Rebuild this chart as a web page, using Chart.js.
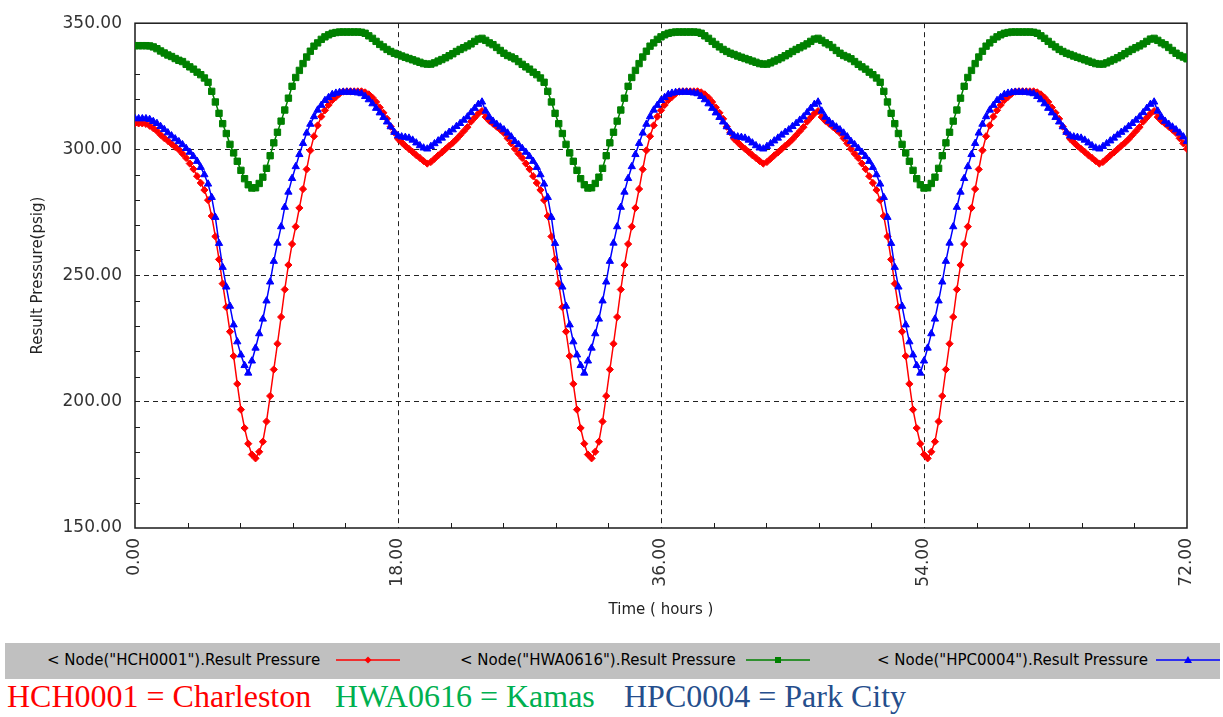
<!DOCTYPE html>
<html>
<head>
<meta charset="utf-8">
<title>Result Pressure</title>
<script src="https://cdn.jsdelivr.net/npm/chart.js@4.4.1/dist/chart.umd.min.js"></script>
<style>
    body { margin: 0; background: #fff; overflow: hidden; }
    #wrap { position: relative; width: 1223px; height: 717px; }
    #pressure-chart { position: absolute; left: 0; top: 0; }
    .legend-bar { position: absolute; left: 5px; top: 643px; width: 1215px; height: 36px; background: #c0c0c0; }
    .legend-text { position: absolute; top: 651px; font: 15px "DejaVu Sans", sans-serif; color: #000; white-space: nowrap; line-height: 18px; }
    .legend-mark { position: absolute; top: 654px; }
    .caption { position: absolute; top: 680px; font: 32px "Liberation Serif", "Times New Roman", serif; line-height: 32px; white-space: nowrap; }
</style>
</head>
<body>
<div id="wrap">
    <canvas id="pressure-chart" width="1223" height="640"></canvas>
    <div class="legend-bar"></div>
    <div id="legend"></div>
    <div class="caption" style="left:7px;color:#ff0000">HCH0001 = Charleston</div>
    <div class="caption" style="left:335px;color:#00b050">HWA0616 = Kamas</div>
    <div class="caption" style="left:624px;color:#254e8c">HPC0004 = Park City</div>
</div>
<script>
// pressures (psig), one sample every 15 min from 0 to 72 hours
const pressureHCH0001 = [
    // day 1
    310.3, 310.3, 310.3, 310.1, 309.4, 308.4, 307.3, 305.8, 304.5, 303.4, 302.2, 301.0, 299.9,
    298.3, 296.6, 294.4, 292.2, 289.4, 286.7, 283.9, 279.9, 273.6, 265.5, 256.4, 246.8, 237.5, 227.8, 218.1, 207.1,
    196.9, 189.6, 183.4, 179.1, 177.6, 180.2, 184.2, 192.2, 202.3, 212.8, 223.0, 233.6, 244.5, 254.2, 262.5, 269.4,
    276.8, 284.3, 292.1, 299.6, 305.2, 309.5, 313.0, 315.5, 317.6, 319.5, 320.8, 322.1, 322.9, 323.0, 323.0, 323.0,
    323.0, 323.0, 322.6, 321.8, 320.5, 318.8, 316.6, 314.5, 312.1, 309.0, 306.7, 304.2, 302.8, 301.4, 300.2, 299.0,
    297.7, 296.6, 295.4, 294.4, 295.0, 296.3, 297.6, 298.8, 300.1, 301.4, 302.6, 304.0, 305.6, 307.2, 308.8,
    // day 2
    311.0, 312.6, 314.2, 315.2, 312.8, 311.3, 310.2, 309.0, 307.8, 306.5, 304.4, 302.4, 300.2,
    298.3, 296.6, 294.4, 292.2, 289.4, 286.7, 283.9, 279.9, 273.6, 265.5, 256.4, 246.8, 237.5, 227.8, 218.1, 207.1,
    196.9, 189.6, 183.4, 179.1, 177.6, 180.2, 184.2, 192.2, 202.3, 212.8, 223.0, 233.6, 244.5, 254.2, 262.5, 269.4,
    276.8, 284.3, 292.1, 299.6, 305.2, 309.5, 313.0, 315.5, 317.6, 319.5, 320.8, 322.1, 322.9, 323.0, 323.0, 323.0,
    323.0, 323.0, 322.6, 321.8, 320.5, 318.8, 316.6, 314.5, 312.1, 309.0, 306.7, 304.2, 302.8, 301.4, 300.2, 299.0,
    297.7, 296.6, 295.4, 294.4, 295.0, 296.3, 297.6, 298.8, 300.1, 301.4, 302.6, 304.0, 305.6, 307.2, 308.8,
    // day 3
    311.0, 312.6, 314.2, 315.2, 312.8, 311.3, 310.2, 309.0, 307.8, 306.5, 304.4, 302.4, 300.2,
    298.3, 296.6, 294.4, 292.2, 289.4, 286.7, 283.9, 279.9, 273.6, 265.5, 256.4, 246.8, 237.5, 227.8, 218.1, 207.1,
    196.9, 189.6, 183.4, 179.1, 177.6, 180.2, 184.2, 192.2, 202.3, 212.8, 223.0, 233.6, 244.5, 254.2, 262.5, 269.4,
    276.8, 284.3, 292.1, 299.6, 305.2, 309.5, 313.0, 315.5, 317.6, 319.5, 320.8, 322.1, 322.9, 323.0, 323.0, 323.0,
    323.0, 323.0, 322.6, 321.8, 320.5, 318.8, 316.6, 314.5, 312.1, 309.0, 306.7, 304.2, 302.8, 301.4, 300.2, 299.0,
    297.7, 296.6, 295.4, 294.4, 295.0, 296.3, 297.6, 298.8, 300.1, 301.4, 302.6, 304.0, 305.6, 307.2, 308.8,
    // last hours
    311.0, 312.6, 314.2, 315.2, 312.8, 311.3, 310.2, 309.0, 307.8, 306.5, 304.4, 302.4, 300.2
];

const pressureHWA0616 = [
    // day 1
    341.1, 341.1, 341.1, 341.1, 341.0, 340.6, 339.9, 339.0, 338.2, 337.4, 336.8, 336.0, 335.3,
    334.8, 333.7, 332.7, 331.8, 330.6, 329.6, 328.3, 326.6, 323.0, 318.8, 314.3, 310.2, 306.3, 302.0, 298.6, 295.3,
    291.7, 288.4, 286.0, 284.7, 284.8, 286.5, 289.0, 292.5, 297.5, 302.6, 306.8, 311.2, 315.6, 320.3, 325.0, 328.5,
    331.3, 334.0, 336.6, 338.9, 340.9, 342.2, 343.6, 344.6, 345.4, 346.0, 346.3, 346.5, 346.5, 346.5, 346.5, 346.5,
    346.5, 346.4, 346.0, 345.0, 344.0, 342.8, 341.6, 340.6, 339.6, 338.8, 338.1, 337.6, 337.0, 336.5, 336.0, 335.5,
    335.0, 334.5, 334.0, 333.8, 333.8, 334.3, 335.0, 335.6, 336.3, 337.1, 337.9, 338.8, 339.6, 340.3, 341.0,
    // day 2
    341.8, 342.8, 343.7, 344.0, 343.2, 342.2, 341.5, 340.4, 339.2, 338.1, 337.2, 336.6, 335.9,
    334.8, 333.7, 332.7, 331.8, 330.6, 329.6, 328.3, 326.6, 323.0, 318.8, 314.3, 310.2, 306.3, 302.0, 298.6, 295.3,
    291.7, 288.4, 286.0, 284.7, 284.8, 286.5, 289.0, 292.5, 297.5, 302.6, 306.8, 311.2, 315.6, 320.3, 325.0, 328.5,
    331.3, 334.0, 336.6, 338.9, 340.9, 342.2, 343.6, 344.6, 345.4, 346.0, 346.3, 346.5, 346.5, 346.5, 346.5, 346.5,
    346.5, 346.4, 346.0, 345.0, 344.0, 342.8, 341.6, 340.6, 339.6, 338.8, 338.1, 337.6, 337.0, 336.5, 336.0, 335.5,
    335.0, 334.5, 334.0, 333.8, 333.8, 334.3, 335.0, 335.6, 336.3, 337.1, 337.9, 338.8, 339.6, 340.3, 341.0,
    // day 3
    341.8, 342.8, 343.7, 344.0, 343.2, 342.2, 341.5, 340.4, 339.2, 338.1, 337.2, 336.6, 335.9,
    334.8, 333.7, 332.7, 331.8, 330.6, 329.6, 328.3, 326.6, 323.0, 318.8, 314.3, 310.2, 306.3, 302.0, 298.6, 295.3,
    291.7, 288.4, 286.0, 284.7, 284.8, 286.5, 289.0, 292.5, 297.5, 302.6, 306.8, 311.2, 315.6, 320.3, 325.0, 328.5,
    331.3, 334.0, 336.6, 338.9, 340.9, 342.2, 343.6, 344.6, 345.4, 346.0, 346.3, 346.5, 346.5, 346.5, 346.5, 346.5,
    346.5, 346.4, 346.0, 345.0, 344.0, 342.8, 341.6, 340.6, 339.6, 338.8, 338.1, 337.6, 337.0, 336.5, 336.0, 335.5,
    335.0, 334.5, 334.0, 333.8, 333.8, 334.3, 335.0, 335.6, 336.3, 337.1, 337.9, 338.8, 339.6, 340.3, 341.0,
    // last hours
    341.8, 342.8, 343.7, 344.0, 343.2, 342.2, 341.5, 340.4, 339.2, 338.1, 337.2, 336.6, 335.9
];

const pressureHPC0004 = [
    // day 1
    312.2, 312.2, 312.2, 312.2, 311.9, 311.1, 310.3, 309.1, 307.9, 306.6, 305.4, 304.2, 303.1,
    301.9, 300.4, 298.9, 297.2, 295.3, 292.9, 290.0, 286.3, 281.0, 273.1, 262.8, 253.3, 245.5, 237.9, 230.5, 223.8,
    218.6, 214.4, 211.4, 216.2, 221.3, 227.0, 232.8, 240.0, 247.5, 255.7, 262.9, 269.4, 277.1, 283.1, 288.5, 293.2,
    298.0, 302.4, 306.5, 310.0, 313.0, 315.6, 317.5, 319.4, 320.6, 321.8, 322.3, 322.6, 322.7, 322.7, 322.7, 322.6,
    322.4, 322.1, 321.0, 319.7, 318.1, 316.3, 314.5, 312.7, 310.9, 309.0, 306.8, 305.4, 305.0, 304.8, 304.5, 303.7,
    302.6, 301.5, 300.6, 300.2, 301.2, 302.3, 303.4, 304.5, 305.7, 306.8, 307.8, 309.1, 310.3, 311.6, 312.9,
    // day 2
    314.6, 316.3, 317.9, 318.8, 315.2, 312.8, 311.2, 310.0, 308.9, 307.8, 306.5, 305.0, 303.2,
    301.9, 300.4, 298.9, 297.2, 295.3, 292.9, 290.0, 286.3, 281.0, 273.1, 262.8, 253.3, 245.5, 237.9, 230.5, 223.8,
    218.6, 214.4, 211.4, 216.2, 221.3, 227.0, 232.8, 240.0, 247.5, 255.7, 262.9, 269.4, 277.1, 283.1, 288.5, 293.2,
    298.0, 302.4, 306.5, 310.0, 313.0, 315.6, 317.5, 319.4, 320.6, 321.8, 322.3, 322.6, 322.7, 322.7, 322.7, 322.6,
    322.4, 322.1, 321.0, 319.7, 318.1, 316.3, 314.5, 312.7, 310.9, 309.0, 306.8, 305.4, 305.0, 304.8, 304.5, 303.7,
    302.6, 301.5, 300.6, 300.2, 301.2, 302.3, 303.4, 304.5, 305.7, 306.8, 307.8, 309.1, 310.3, 311.6, 312.9,
    // day 3
    314.6, 316.3, 317.9, 318.8, 315.2, 312.8, 311.2, 310.0, 308.9, 307.8, 306.5, 305.0, 303.2,
    301.9, 300.4, 298.9, 297.2, 295.3, 292.9, 290.0, 286.3, 281.0, 273.1, 262.8, 253.3, 245.5, 237.9, 230.5, 223.8,
    218.6, 214.4, 211.4, 216.2, 221.3, 227.0, 232.8, 240.0, 247.5, 255.7, 262.9, 269.4, 277.1, 283.1, 288.5, 293.2,
    298.0, 302.4, 306.5, 310.0, 313.0, 315.6, 317.5, 319.4, 320.6, 321.8, 322.3, 322.6, 322.7, 322.7, 322.7, 322.6,
    322.4, 322.1, 321.0, 319.7, 318.1, 316.3, 314.5, 312.7, 310.9, 309.0, 306.8, 305.4, 305.0, 304.8, 304.5, 303.7,
    302.6, 301.5, 300.6, 300.2, 301.2, 302.3, 303.4, 304.5, 305.7, 306.8, 307.8, 309.1, 310.3, 311.6, 312.9,
    // last hours
    314.6, 316.3, 317.9, 318.8, 315.2, 312.8, 311.2, 310.0, 308.9, 307.8, 306.5, 305.0, 303.2
];

// sample clock, 15 min steps
const timeHours = pressureHCH0001.map((_, i) => i * 0.25);

const xMajorTicks = [0, 18, 36, 54, 72];
const xMinorTicks = [3.6, 7.2, 10.8, 14.4, 21.6, 25.2, 28.8, 32.4, 39.6, 43.2, 46.8, 50.4, 57.6, 61.2, 64.8, 68.4];
const yMajorTicks = [150, 200, 250, 300, 350];
const yMinorTicks = [160, 170, 180, 190, 210, 220, 230, 240, 260, 270, 280, 290, 310, 320, 330, 340];

const seriesNames = ['< Node("HCH0001").Result Pressure', '< Node("HWA0616").Result Pressure', '< Node("HPC0004").Result Pressure'];
const seriesColors = ['#ff0000', '#008000', '#0000ff'];

// legend strip placement: text left, sample line left
const legendSlots = [[47, 336], [460, 746], [877, 1156]];

const axisFrame = {
    id: 'axisFrame',
    beforeDatasetsDraw(chart) {
        const { ctx, chartArea: a, scales: { x, y } } = chart;
        ctx.save();
        ctx.strokeStyle = '#1a1a1a';
        ctx.lineWidth = 1.5;
        ctx.strokeRect(a.left, a.top, a.right - a.left, a.bottom - a.top);
        ctx.lineWidth = 1;
        ctx.beginPath();
        yMinorTicks.forEach(v => {
            let py = Math.round(y.getPixelForValue(v)) + 0.5;
            ctx.moveTo(a.left, py);
            ctx.lineTo(a.left + 5, py);
        });
        xMinorTicks.forEach(v => {
            let px = Math.round(x.getPixelForValue(v)) + 0.5;
            ctx.moveTo(px, a.bottom);
            ctx.lineTo(px, a.bottom - 5);
        });
        ctx.stroke();
        ctx.restore();
    }
};

const innerGrid = (edges) => (c) => (c.tick && edges.indexOf(c.tick.value) === -1) ? '#222' : 'rgba(0,0,0,0)';

const tickFont = { family: 'DejaVu Sans', size: 17 };

var pressureChart = new Chart(document.getElementById('pressure-chart'), {
    type: 'line',
    data: {
        labels: timeHours,
        datasets: [
            { label: seriesNames[0], data: pressureHCH0001, borderColor: seriesColors[0], backgroundColor: seriesColors[0], pointStyle: 'rectRot', pointRadius: 3.6, order: 2 },
            { label: seriesNames[1], data: pressureHWA0616, borderColor: seriesColors[1], backgroundColor: seriesColors[1], pointStyle: 'rect', pointRadius: 4.5, order: 1 },
            { label: seriesNames[2], data: pressureHPC0004, borderColor: seriesColors[2], backgroundColor: seriesColors[2], pointStyle: 'triangle', pointRadius: 4.2, order: 0 }
        ].map(ds => Object.assign(ds, { borderWidth: 1.5, pointBorderWidth: 1, pointBorderColor: ds.borderColor, tension: 0 }))
    },
    options: {
        responsive: false,
        animation: false,
        events: [],
        layout: { padding: { top: 13, right: 36, left: 0, bottom: 0 } },
        plugins: { legend: { display: false }, tooltip: { enabled: false } },
        scales: {
            x: {
                type: 'linear',
                min: 0,
                max: 72,
                afterFit(s) { s.height = 112; },
                afterBuildTicks(s) { s.ticks = xMajorTicks.map(v => ({ value: v })); },
                ticks: { autoSkip: false, minRotation: 90, maxRotation: 90, padding: 10, font: tickFont, color: '#333', callback: v => Number(v).toFixed(2) },
                grid: { drawTicks: false, color: innerGrid([0, 72]), lineWidth: 1 },
                border: { display: false, dash: [5, 4] },
                title: { display: true, text: 'Time ( hours )', color: '#222', font: { family: 'DejaVu Sans', size: 15 }, padding: { top: 0, bottom: 21 } }
            },
            y: {
                min: 150,
                max: 350,
                afterFit(s) { s.width = 135; },
                afterBuildTicks(s) { s.ticks = yMajorTicks.map(v => ({ value: v })); },
                ticks: { padding: 13, font: tickFont, color: '#333', callback: v => Number(v).toFixed(2) },
                grid: { drawTicks: false, color: innerGrid([150, 350]), lineWidth: 1 },
                border: { display: false, dash: [5, 4] },
                title: { display: true, text: 'Result Pressure(psig)', color: '#222', font: { family: 'DejaVu Sans', size: 15 }, padding: { top: 29, bottom: 0 } }
            }
        }
    },
    plugins: [axisFrame]
});

function markerPath(style, cx, cy, color) {
    if (style === 'rect') return `<rect x="${cx - 3}" y="${cy - 3}" width="6" height="6" fill="${color}"/>`;
    if (style === 'triangle') return `<path d="M${cx} ${cy - 4} L${cx + 4} ${cy + 3} L${cx - 4} ${cy + 3}Z" fill="${color}"/>`;
    return `<path d="M${cx} ${cy - 3.5} L${cx + 3.5} ${cy} L${cx} ${cy + 3.5} L${cx - 3.5} ${cy}Z" fill="${color}"/>`;
}

function renderLegend() {
    let html = '';
    pressureChart.data.datasets.forEach((ds, i) => {
        let [textLeft, lineLeft] = legendSlots[i];
        let name = ds.label.replace(/</g, '&lt;');
        html += `<div class="legend-text" style="left:${textLeft}px">${name}</div>`;
        html += `<svg class="legend-mark" style="left:${lineLeft}px" width="64" height="12">
                    <line x1="0" y1="6" x2="64" y2="6" stroke="${ds.borderColor}" stroke-width="1.5"/>
                    ${markerPath(ds.pointStyle, 32, 6, ds.borderColor)}
                 </svg>`;
    });
    document.getElementById('legend').innerHTML = html;
}

renderLegend();
</script>
</body>
</html>
